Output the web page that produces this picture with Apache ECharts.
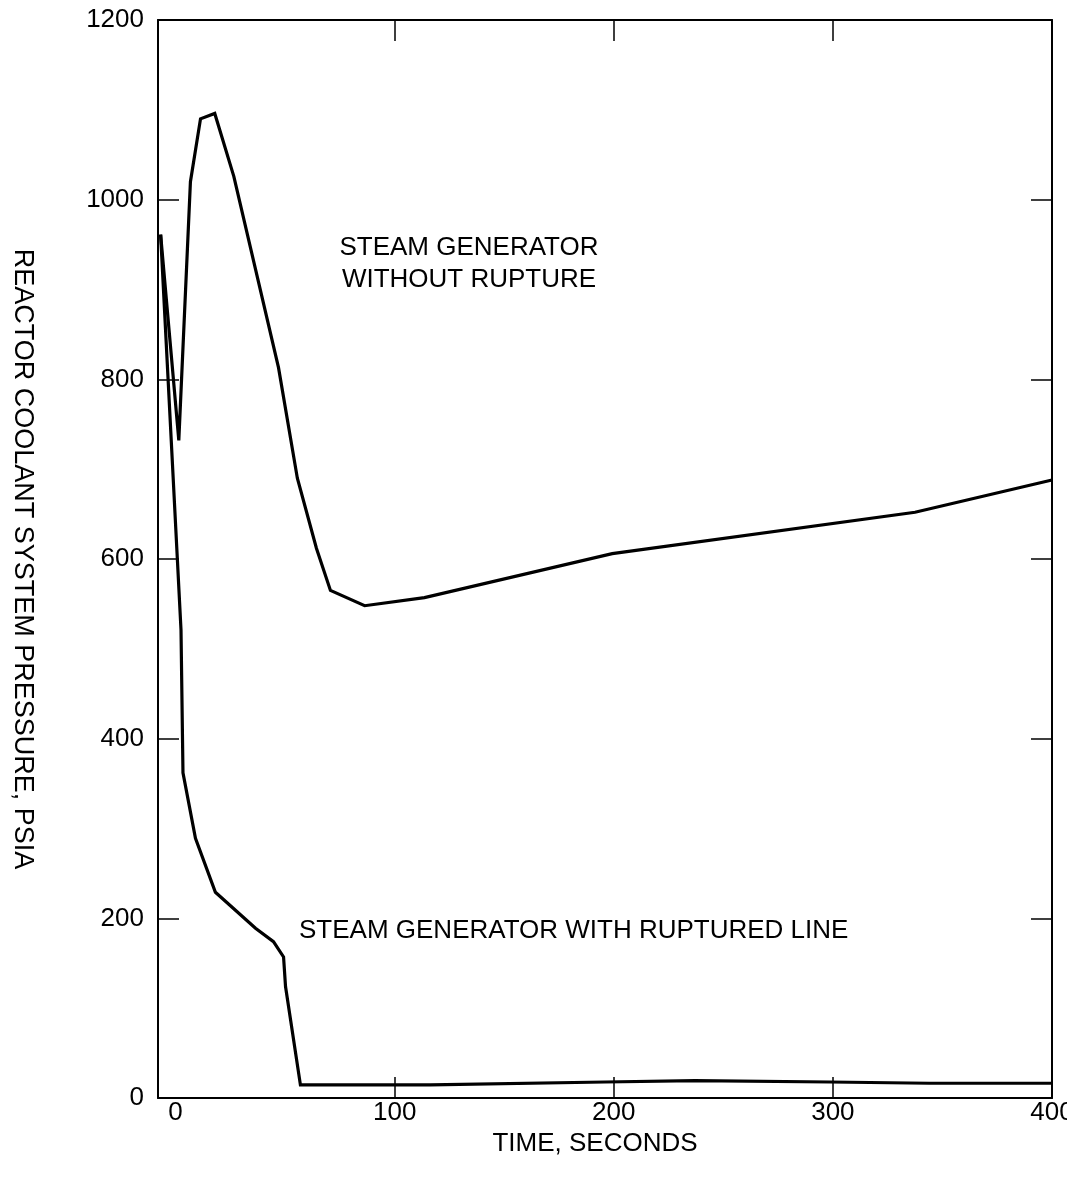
<!DOCTYPE html>
<html>
<head>
<meta charset="utf-8">
<script src="https://cdn.jsdelivr.net/npm/echarts@6/dist/echarts.min.js"></script>
<style>
html,body{margin:0;padding:0;background:#fff;overflow:hidden;}
#chart{width:1067px;height:1189px;}
</style>
</head>
<body>
<div id="chart"></div>
<script>
// Time (s) and pressure (psia)
const noRuptureTime = [-6.8, 1.5, 6.8, 11.4, 17.9, 26.6, 47, 55.6, 64.3, 70.7, 86.3, 113.6, 199.3, 337.5, 400];
const noRupturePsia = [961, 732, 1020, 1090, 1096, 1026, 813, 690, 612, 565, 548, 557, 606, 652, 688];

const ruptureTime = [-6.8, 2.5, 3.4, 9.1, 18.2, 36.5, 44.7, 49.3, 50.2, 49.3, 57.0, 116.3, 196, 237, 298.7, 344, 400];
const rupturePsia = [961, 521, 362, 289, 229, 189, 174, 157, 124, 126, 14.5, 14.5, 17.8, 19.3, 17.8, 16.4, 16.4];

const xLabelValues = [0, 100, 200, 300, 400];
const xTickValues = [100, 200, 300];
const labelNoRupture = ['STEAM GENERATOR', 'WITHOUT RUPTURE'];
const labelRupture = 'STEAM GENERATOR WITH RUPTURED LINE';

const FONT = '"Liberation Sans", Arial, sans-serif';
const FS = 26;

const zip = (a, b) => a.map((v, i) => [v, b[i]]);

const chart = echarts.init(document.getElementById('chart'));
const axisLine = {show: true, onZero: false, lineStyle: {color: '#000', width: 2}};
const tickStyle = {color: '#000', width: 1.5};

chart.setOption({
  animation: false,
  backgroundColor: '#fff',
  grid: {left: 158, right: 15, top: 20, bottom: 91, containLabel: false, outerBoundsMode: 'none'},
  xAxis: [
    {
      type: 'value', position: 'bottom', min: -8, max: 400,
      axisLine: axisLine,
      axisTick: {show: true, inside: true, length: 21, lineStyle: tickStyle, customValues: xTickValues},
      axisLabel: {show: true, color: '#000', fontFamily: FONT, fontSize: FS, margin: 2, customValues: xLabelValues},
      splitLine: {show: false},
      name: 'TIME, SECONDS', nameLocation: 'middle', nameGap: 28,
      nameTextStyle: {color: '#000', fontFamily: FONT, fontSize: FS, padding: [0, 20, 0, 0]}
    },
    {
      type: 'value', position: 'top', min: -8, max: 400,
      axisLine: axisLine,
      axisTick: {show: true, inside: true, length: 21, lineStyle: tickStyle, customValues: xTickValues},
      axisLabel: {show: false},
      splitLine: {show: false}
    }
  ],
  yAxis: [
    {
      type: 'value', position: 'left', min: 0, max: 1200, interval: 200,
      axisLine: axisLine,
      axisTick: {show: true, inside: true, length: 21, lineStyle: tickStyle},
      axisLabel: {show: true, color: '#000', fontFamily: FONT, fontSize: FS, margin: 14, formatter: v => String(v)},
      splitLine: {show: false},
      name: 'REACTOR COOLANT SYSTEM PRESSURE, PSIA', nameLocation: 'middle', nameGap: 122, nameRotate: -90,
      nameTextStyle: {color: '#000', fontFamily: FONT, fontSize: 27}
    },
    {
      type: 'value', position: 'right', min: 0, max: 1200, interval: 200,
      axisLine: axisLine,
      axisTick: {show: true, inside: true, length: 21, lineStyle: tickStyle},
      axisLabel: {show: false},
      splitLine: {show: false}
    }
  ],
  series: [
    {
      type: 'line', name: 'without rupture', xAxisIndex: 0, yAxisIndex: 0,
      data: zip(noRuptureTime, noRupturePsia),
      showSymbol: false, symbol: 'none',
      lineStyle: {color: '#000', width: 3.2, join: 'miter'}
    },
    {
      type: 'line', name: 'with ruptured line', xAxisIndex: 0, yAxisIndex: 0,
      data: zip(ruptureTime, rupturePsia),
      showSymbol: false, symbol: 'none',
      lineStyle: {color: '#000', width: 3.2, join: 'miter'}
    }
  ],
  graphic: [
    {type: 'text', x: 469, y: 248, style: {text: labelNoRupture[0], fill: '#000', font: FS + 'px ' + FONT, textAlign: 'center', textVerticalAlign: 'middle'}},
    {type: 'text', x: 469, y: 280, style: {text: labelNoRupture[1], fill: '#000', font: FS + 'px ' + FONT, textAlign: 'center', textVerticalAlign: 'middle'}},
    {type: 'text', x: 299, y: 931, style: {text: labelRupture, fill: '#000', font: FS + 'px ' + FONT, textAlign: 'left', textVerticalAlign: 'middle'}}
  ]
});
</script>
</body>
</html>
